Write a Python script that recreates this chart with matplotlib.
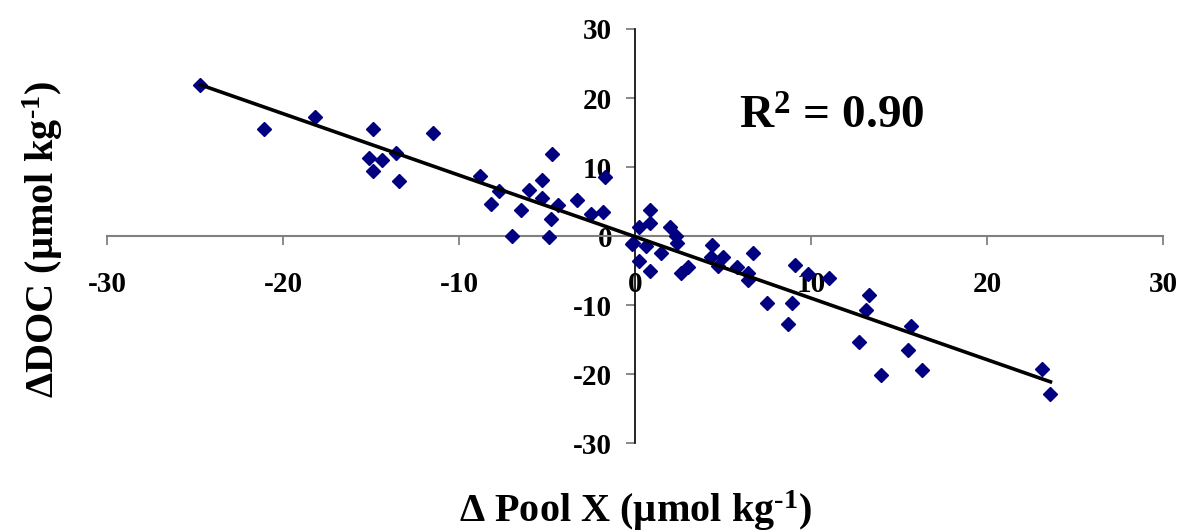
import numpy as np
import matplotlib
matplotlib.use("Agg")
import matplotlib.pyplot as plt

# Datos (µmol kg-1)
delta_pool_x = [-24.7, -21.1, -18.2, -15.1, -14.9, -14.9, -14.4, -13.6, -13.4, -11.5,
                -8.8, -8.2, -7.7, -7.0, -6.5, -6.0, -5.3, -5.3, -4.9, -4.8,
                -4.7, -4.4, -3.3, -2.5, -1.8, -1.7, -0.2, -0.1, 0.2, 0.2,
                0.6, 0.85, 0.85, 0.85, 1.5, 2.0, 2.3, 2.4, 2.6, 3.0,
                4.3, 4.4, 4.7, 5.0, 5.8, 6.4, 6.4, 6.7, 7.5, 8.7,
                8.9, 9.1, 9.8, 11.0, 12.7, 13.1, 13.3, 14.0, 15.5, 15.7,
                16.3, 23.1, 23.6]
delta_doc = [21.9, 15.5, 17.2, 11.3, 15.5, 9.4, 11.0, 12.0, 8.0, 14.9,
             8.7, 4.6, 6.5, 0.0, 3.8, 6.7, 8.1, 5.5, -0.1, 2.5,
             11.9, 4.5, 5.2, 3.2, 3.5, 8.6, -1.2, -1.0, 1.3, -3.6,
             -1.4, 3.8, 1.9, -5.1, -2.5, 1.3, 0.0, -1.0, -5.4, -4.5,
             -3.0, -1.3, -4.3, -3.0, -4.5, -5.4, -6.4, -2.5, -9.7, -12.8,
             -9.7, -4.2, -5.5, -6.1, -15.4, -10.7, -8.6, -20.1, -16.5, -13.0,
             -19.4, -19.3, -22.9]
ticks = [-30, -20, -10, 0, 10, 20, 30]
r2_text = "R$^{2}$ = 0.90"

plt.rcParams['font.family'] = ['Liberation Serif', 'DejaVu Serif']
plt.rcParams['font.weight'] = 'bold'
plt.rcParams['mathtext.fontset'] = 'custom'
plt.rcParams['mathtext.rm'] = 'Liberation Serif:bold'
plt.rcParams['mathtext.bf'] = 'Liberation Serif:bold'
plt.rcParams['mathtext.it'] = 'Liberation Serif:bold'

fig = plt.figure(figsize=(11.82, 5.32), dpi=100)
ax = fig.add_axes([0.0905, 0.167, 0.8935, 0.7785])

x = np.array(delta_pool_x)
y = np.array(delta_doc)
ax.plot(x, y, linestyle='none', marker='D', markersize=7,
        color='#000080', zorder=3)

# Línea de regresión lineal
pendiente, intercepto = np.polyfit(x, y, 1)
xl = np.array([x.min(), x.max()])
ax.plot(xl, pendiente * xl + intercepto, color='black', linewidth=2.6, zorder=4)

ax.set_xlim(-30, 30)
ax.set_ylim(-30, 30)
ax.set_xticks(ticks)
ax.set_yticks(ticks)
ax.set_xticklabels([str(t) for t in ticks])
ax.set_yticklabels([str(t) for t in ticks])

# Ejes cruzando en el origen
ax.spines['left'].set_position(('data', 0))
ax.spines['bottom'].set_position(('data', 0))
ax.spines['right'].set_visible(False)
ax.spines['top'].set_visible(False)
ax.spines['bottom'].set_color('#808080')
ax.spines['bottom'].set_linewidth(1.5)
ax.spines['left'].set_color('black')
ax.spines['left'].set_linewidth(1.2)

ax.tick_params(axis='x', direction='out', length=6.5, width=1.3,
               color='#808080', labelsize=21, pad=19)
ax.tick_params(axis='y', direction='out', length=6.5, width=1.3,
               color='#808080', labelsize=21, pad=10)

ax.text(11.2, 17.2, r2_text, fontsize=34, fontweight='bold',
        ha='center', va='center')

fig.text(0.538, 0.04, "Δ Pool X (µmol kg$^{\\text{-1}}$)", fontsize=29,
         fontweight='bold', ha='center', va='center')
fig.text(0.036, 0.55, "ΔDOC (µmol kg$^{\\text{-1}}$)", fontsize=29,
         fontweight='bold', ha='center', va='center', rotation=90)

fig.savefig('out.png', dpi=100)
